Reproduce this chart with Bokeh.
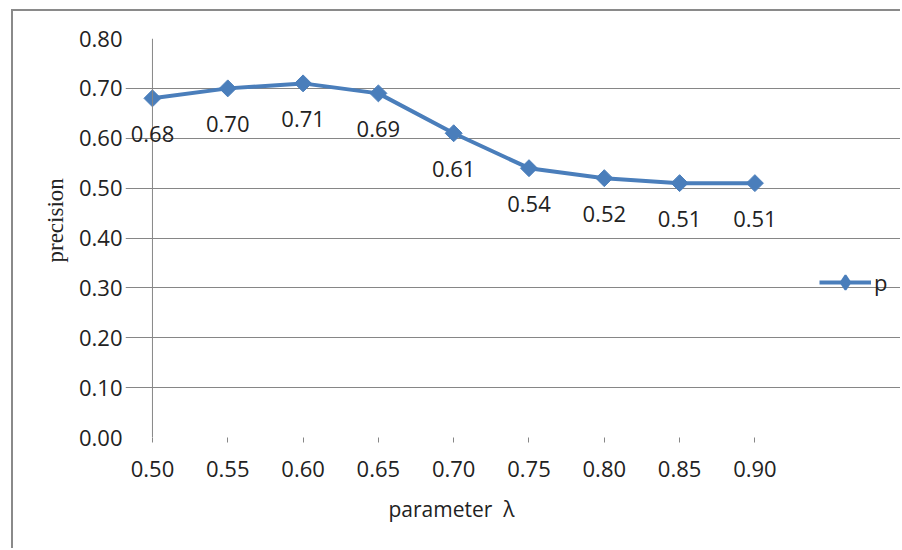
import math
from bokeh.plotting import figure
from bokeh.models import (ColumnDataSource, LabelSet, Span, Legend, LegendItem, Title,
                          FixedTicker, NumeralTickFormatter, Range1d)
from bokeh.core.properties import value
from bokeh.embed import file_html
from bokeh.resources import INLINE

# ---- data ----
lambdas = [0.50, 0.55, 0.60, 0.65, 0.70, 0.75, 0.80, 0.85, 0.90]
precision = [0.68, 0.70, 0.71, 0.69, 0.61, 0.54, 0.52, 0.51, 0.51]
y_ticks = [0.0, 0.1, 0.2, 0.3, 0.4, 0.5, 0.6, 0.7, 0.8]
point_labels = [f"{v:.2f}" for v in precision]
series_name = "p"
x_title = "parameter\u00a0\u00a0\u03bb"
y_title = "precision"

BLUE = "#4A7EBB"
GRID = "#868686"
TEXT = "#222222"
FONT = "Open Sans"

src = ColumnDataSource(dict(x=lambdas, y=precision, lab=point_labels))

p = figure(width=889, height=539,
           x_range=Range1d(0.4821, 0.998), y_range=Range1d(0.0, 0.8),
           output_backend="svg", toolbar_location=None,
           min_border_left=112, min_border_right=0,
           min_border_top=27, min_border_bottom=113)
p.outline_line_color = None
p.background_fill_color = "white"
p.border_fill_color = "white"
p.styles = {"border-left": "2px solid #8a8a8a", "border-top": "2px solid #8a8a8a",
            "margin-left": "11px", "margin-top": "9px"}

# grid
p.xgrid.visible = False
p.ygrid.ticker = FixedTicker(ticks=y_ticks)
p.ygrid.grid_line_color = GRID
p.ygrid.grid_line_width = 1
p.ygrid.bounds = (lambdas[0] - 0.006, lambdas[-1] + 0.0017)

# vertical axis line at first category
p.add_layout(Span(location=lambdas[0], dimension="height", line_color=GRID, line_width=1))

# x axis
xa = p.xaxis[0]
xa.ticker = FixedTicker(ticks=lambdas)
xa.formatter = NumeralTickFormatter(format="0.00")
xa.axis_line_color = None
xa.major_tick_line_color = GRID
xa.major_tick_out = 5
xa.major_tick_in = 0
xa.minor_tick_line_color = None
xa.major_label_text_font = FONT
xa.major_label_text_font_size = "22px"
xa.major_label_text_color = TEXT
xa.major_label_standoff = 18

# y axis
ya = p.yaxis[0]
ya.ticker = FixedTicker(ticks=y_ticks)
ya.formatter = NumeralTickFormatter(format="0.00")
ya.axis_line_color = None
ya.major_tick_line_color = None
ya.major_tick_out = 0
ya.major_tick_in = 0
ya.minor_tick_line_color = None
ya.major_label_text_font = FONT
ya.major_label_text_font_size = "22px"
ya.major_label_text_color = TEXT
ya.major_label_standoff = 3

# axis titles as side titles (allow offset)
p.add_layout(Title(text=x_title, align="left", offset=263,
                   text_font=FONT, text_font_size="21px", text_font_style="normal",
                   text_color=TEXT, standoff=27), "below")
p.add_layout(Title(text=y_title, align="left", offset=175,
                   text_font="Liberation Serif", text_font_size="23px",
                   text_font_style="normal", text_color=TEXT, standoff=16), "left")

# series
lr = p.line("x", "y", source=src, line_width=4, line_color=BLUE)
sr = p.scatter("x", "y", source=src, marker="square", angle=math.pi / 4, size=12,
               fill_color=BLUE, line_color=BLUE)
# legend-only diamond glyph (hidden on the plot)
lg = p.scatter("x", "y", source=src, marker="diamond", size=14, line_width=2,
               fill_color=BLUE, line_color=BLUE, visible=False)

p.add_layout(LabelSet(x="x", y="y", text="lab", source=src, y_offset=-36,
                      text_align="center", text_baseline="middle",
                      text_font=value(FONT), text_font_size=value("22px"),
                      text_color=TEXT))

legend = Legend(items=[LegendItem(label=series_name, renderers=[lr, lg])],
                location=(694, 137), glyph_width=52, glyph_height=36,
                label_text_font=FONT, label_text_font_size="22px",
                label_text_color=TEXT, label_standoff=3,
                padding=0, margin=0, spacing=0,
                border_line_color=None, background_fill_alpha=0)
p.add_layout(legend)

open("out.html", "w").write(file_html(p, INLINE))
